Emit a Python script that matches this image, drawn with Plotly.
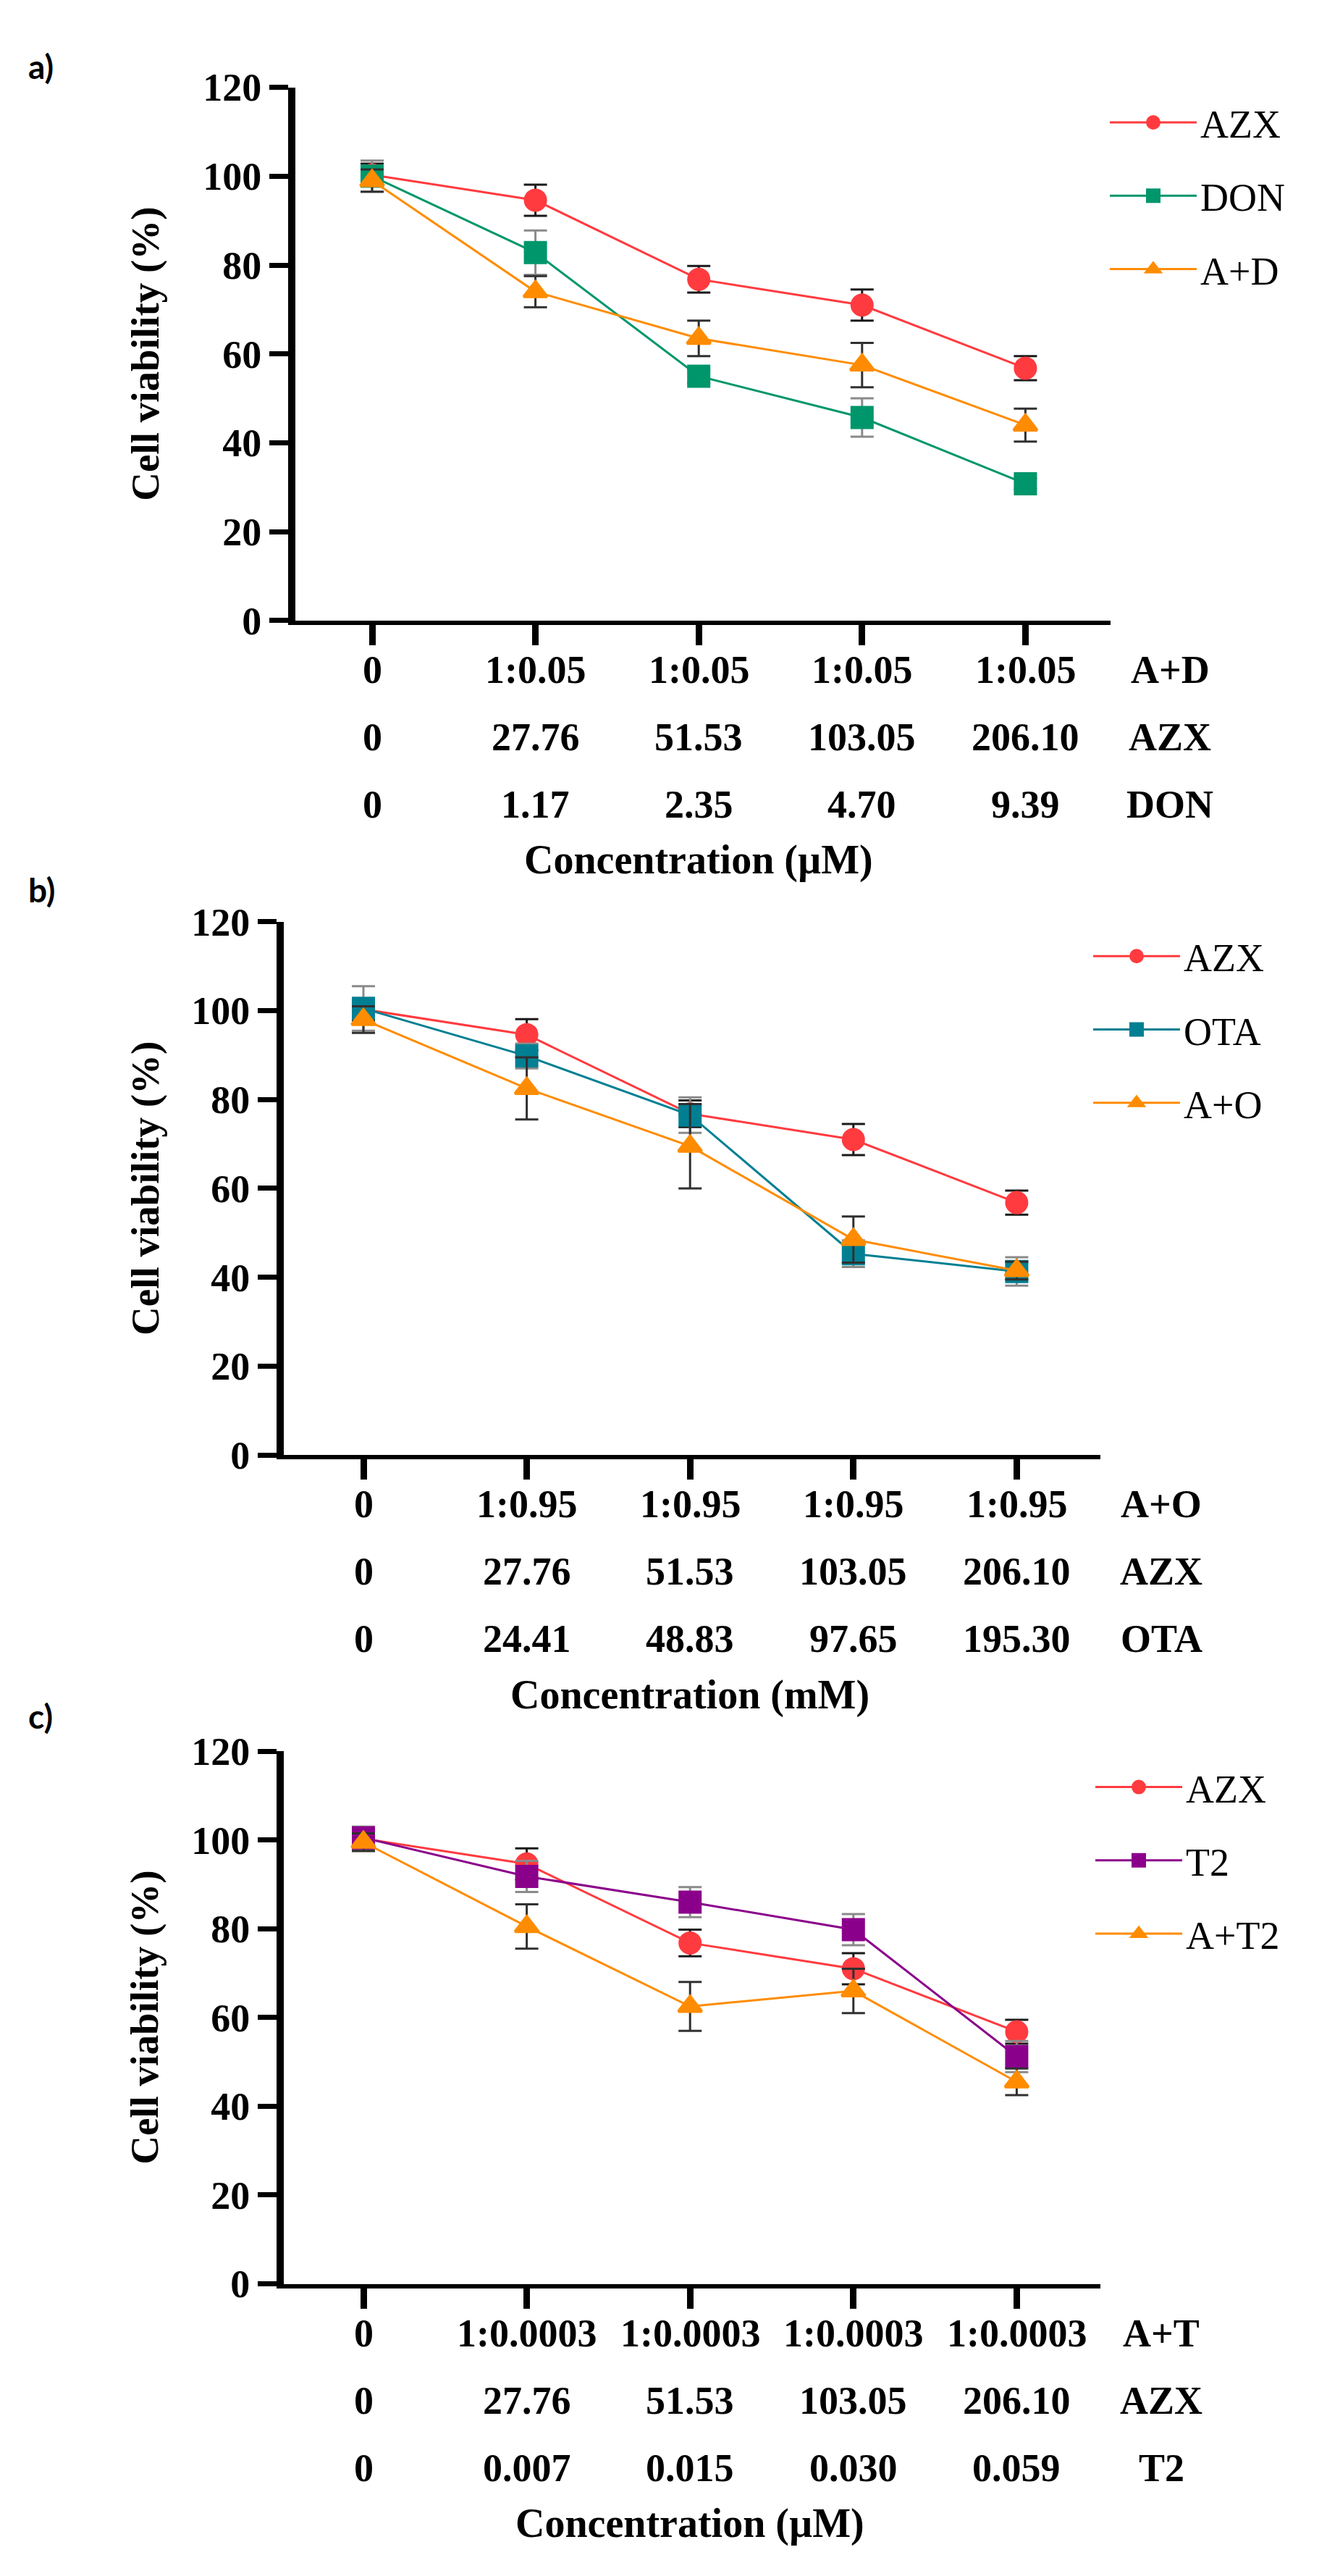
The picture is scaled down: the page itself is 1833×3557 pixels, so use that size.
import plotly.graph_objects as go

W, H = 1833, 3557

# concentration steps (category positions)
steps = [0, 1, 2, 3, 4]

# viability (%) mean and SD
azx_mean = [100.3, 94.6, 76.8, 71.0, 56.8]
azx_sd = [2.5, 3.5, 3.0, 3.5, 2.7]

don_mean = [100.0, 82.8, 55.0, 45.7, 30.8]
don_sd = [3.5, 5.0, 1.5, 4.3, 1.2]
ad_mean = [99.0, 74.0, 63.5, 57.5, 44.0]
ad_sd = [2.5, 3.5, 4.0, 5.0, 3.7]

ota_mean = [100.5, 89.8, 76.5, 45.3, 41.3]
ota_sd = [5.0, 2.8, 4.0, 3.0, 3.2]
ao_mean = [98.0, 82.5, 69.5, 48.5, 41.5]
ao_sd = [3.0, 7.0, 9.5, 5.2, 2.0]

t2_mean = [100.5, 91.8, 86.0, 79.8, 51.2]
t2_sd = [2.5, 3.5, 3.4, 3.5, 3.5]
at_mean = [99.5, 80.5, 62.5, 66.0, 45.5]
at_sd = [2.0, 5.0, 5.5, 5.0, 3.0]

# x tick label rows
ratio_ad = ['0', '1:0.05', '1:0.05', '1:0.05', '1:0.05']
ratio_ao = ['0', '1:0.95', '1:0.95', '1:0.95', '1:0.95']
ratio_at = ['0', '1:0.0003', '1:0.0003', '1:0.0003', '1:0.0003']
azx_conc = ['0', '27.76', '51.53', '103.05', '206.10']
don_conc = ['0', '1.17', '2.35', '4.70', '9.39']
ota_conc = ['0', '24.41', '48.83', '97.65', '195.30']
t2_conc = ['0', '0.007', '0.015', '0.030', '0.059']

RED = '#FF3B3F'
ORANGE = '#FF8C00'
SERIF = 'Liberation Serif'

panels = [
    dict(letter='a)', second='DON', combo='A+D', c2='#00966B',
         m2=don_mean, s2=don_sd, m3=ad_mean, s3=ad_sd,
         rows=[(ratio_ad, 'A+D'), (azx_conc, 'AZX'), (don_conc, 'DON')],
         xtitle='Concentration (µM)',
         dom_x=(400, 1526), x0=506, dom_y=(85, 834), letter_y=55,
         ytitle_x=193, leg=(1520, 92)),
    dict(letter='b)', second='OTA', combo='A+O', c2='#007F93',
         m2=ota_mean, s2=ota_sd, m3=ao_mean, s3=ao_sd,
         rows=[(ratio_ao, 'A+O'), (azx_conc, 'AZX'), (ota_conc, 'OTA')],
         xtitle='Concentration (mM)',
         dom_x=(384, 1512), x0=494, dom_y=(1257, 2006), letter_y=1212,
         ytitle_x=193, leg=(1497, 1263)),
    dict(letter='c)', second='T2', combo='A+T2', c2='#8B008B',
         m2=t2_mean, s2=t2_sd, m3=at_mean, s3=at_sd,
         rows=[(ratio_at, 'A+T'), (azx_conc, 'AZX'), (t2_conc, 'T2')],
         xtitle='Concentration (µM)',
         dom_x=(384, 1512), x0=494, dom_y=(2422, 3170), letter_y=2373,
         ytitle_x=192, leg=(1500, 2430)),
]

UNIT = 225.6  # px per category step
row_offsets = [68, 161, 254]
title_offset = 331
tag_shift = 200  # px right of the last category

fig = go.Figure()
annotations = []
bold = dict(family=SERIF, size=54, color='black', weight='bold')

for i, p in enumerate(panels):
    n = '' if i == 0 else str(i + 1)
    xa, ya = 'x' + n, 'y' + n
    leg = 'legend' + n
    series = [
        ('AZX', azx_mean, azx_sd, RED, 'circle', '#1a1a1a'),
        (p['second'], p['m2'], p['s2'], p['c2'], 'square', '#8a8a8a'),
        (p['combo'], p['m3'], p['s3'], ORANGE, 'triangle-up', '#303030'),
    ]
    for name, mean, sd, col, sym, ecol in series:
        fig.add_trace(go.Scatter(
            x=steps, y=mean, name=name, mode='lines+markers',
            line=dict(color=col, width=3),
            marker=dict(color=col, symbol=sym, size=28,
                        line=dict(color=col, width=4)),
            error_y=dict(type='data', array=sd, color=ecol,
                         thickness=3, width=16),
            xaxis=xa, yaxis=ya, legend=leg,
            legendgroup=name + n, cliponaxis=False,
        ))

    left, right = p['dom_x']
    top, bottom = p['dom_y']
    xr = [(left - p['x0']) / UNIT, (right - p['x0']) / UNIT]
    fig.update_layout({
        'xaxis' + n: dict(
            domain=[left / W, right / W], range=xr, anchor=ya,
            tickvals=steps, showticklabels=False, ticks='outside',
            ticklen=28, tickwidth=9, tickcolor='black',
            showline=True, linewidth=6, linecolor='black',
            showgrid=False, zeroline=False),
        'yaxis' + n: dict(
            domain=[1 - bottom / H, 1 - top / H], range=[0, 120],
            anchor=xa, tickvals=[0, 20, 40, 60, 80, 100, 120],
            ticks='outside', ticklen=26, tickwidth=7, tickcolor='black',
            tickfont=bold,
            showline=True, linewidth=10, linecolor='black',
            showgrid=False, zeroline=False),
        leg: dict(
            x=p['leg'][0] / W, y=1 - p['leg'][1] / H,
            xanchor='left', yanchor='top', bgcolor='rgba(0,0,0,0)',
            font=dict(family=SERIF, size=54, color='black'),
            itemwidth=120, tracegroupgap=28),
    })

    # tick label rows and their series names
    for r, (labels, tag) in enumerate(p['rows']):
        for s, lab in zip(steps, labels):
            annotations.append(dict(
                x=s, xref=xa, y=0, yref=ya + ' domain',
                yshift=-row_offsets[r], text=lab, showarrow=False,
                xanchor='center', yanchor='middle', font=bold))
        annotations.append(dict(
            x=steps[-1], xref=xa, xshift=tag_shift, y=0,
            yref=ya + ' domain', yshift=-row_offsets[r], text=tag,
            showarrow=False, xanchor='center', yanchor='middle',
            font=bold))

    annotations.append(dict(
        x=2, xref=xa, y=0, yref=ya + ' domain', yshift=-title_offset,
        text=p['xtitle'], showarrow=False, xanchor='center',
        yanchor='middle',
        font=dict(family=SERIF, size=56, color='black', weight='bold')))

    annotations.append(dict(
        x=0, xref=xa + ' domain', xshift=-(left - p['ytitle_x']),
        y=0.5, yref=ya + ' domain', text='Cell viability (%)',
        textangle=-90, showarrow=False, xanchor='center',
        yanchor='middle',
        font=dict(family=SERIF, size=55, color='black', weight='bold')))

    annotations.append(dict(
        x=29 / W, xref='paper', y=1 - p['letter_y'] / H, yref='paper',
        text=p['letter'], showarrow=False, xanchor='left',
        yanchor='middle',
        font=dict(family='Lato', size=46, color='black', weight='bold')))

fig.update_layout(
    width=W, height=H,
    margin=dict(l=0, r=0, t=0, b=0),
    paper_bgcolor='white', plot_bgcolor='white',
    annotations=annotations,
)

fig.write_html("out.html")
